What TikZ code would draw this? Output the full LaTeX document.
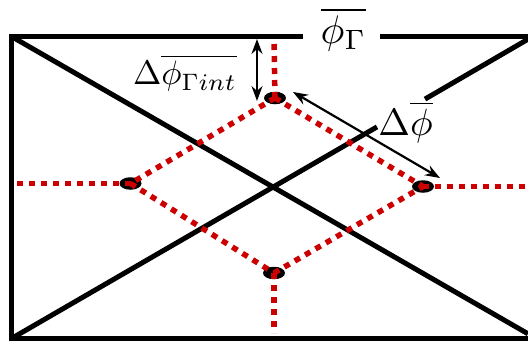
\documentclass[tikz,border=0pt]{standalone}
\usepackage{graphicx}
\usetikzlibrary{arrows.meta,shapes.geometric}
\definecolor{dotred}{RGB}{204,0,0}
\begin{document}
\begin{tikzpicture}[x=1pt,y=-1pt,
  frame/.style={line width=5pt,black},
  reddot/.style={line width=5.5pt,dotred,dash pattern=on 6pt off 6pt},
  grain/.style={ellipse,fill=black,minimum width=22pt,minimum height=12.5pt,inner sep=0pt},
  dim/.style={line width=2.2pt,{Stealth[length=15pt,width=11pt,inset=5pt]}-{Stealth[length=15pt,width=11pt,inset=5pt]}},
  lbl/.style={inner sep=0pt}]
\useasboundingbox (0,0) rectangle (528,343);
% frame
\coordinate (tl) at (11.5,36.5);
\coordinate (bl) at (11.5,338.5);
\coordinate (tgapL) at (303,36.5);
\coordinate (tgapR) at (380,36.5);
\coordinate (tr) at (530,36.5);
\coordinate (br) at (530,338.5);
\draw[frame,line join=miter] (tgapL) -- (tl) -- (bl) -- (br);
\draw[frame] (tgapR) -- (tr);
% diagonals
\coordinate (dBR) at (528,333.8);
\coordinate (dTR) at (528,39.2);
\coordinate (gapA) at (377,126.9);
\coordinate (gapB) at (425,99.1);
\draw[frame] (tl) -- (dBR);
\draw[frame] (bl) -- (gapA);
\draw[frame] (gapB) -- (dTR);
% grains
\node[grain] (nt) at (275,98) {};
\node[grain] (nl) at (130.5,183.5) {};
\node[grain] (nr) at (423,186.5) {};
\node[grain] (nb) at (274,273) {};
% dotted boundaries
\coordinate (et) at (274,42);
\coordinate (el) at (15,183.5);
\coordinate (er) at (530,186.5);
\coordinate (eb) at (274,333);
\draw[reddot] (nt.center) -- (et);
\draw[reddot] (nl.center) -- (el);
\draw[reddot] (nr.center) -- (er);
\draw[reddot] (nb.center) -- (eb);
\draw[reddot] (nt.center) -- (nl.center);
\draw[reddot] (nt.center) -- (nr.center);
\draw[reddot] (nl.center) -- (nb.center);
\draw[reddot] (nb.center) -- (nr.center);
% dimension arrows
\coordinate (a1) at (257,39);
\coordinate (a2) at (257,101);
\draw[dim] (a1) -- (a2);
\coordinate (b1) at (293,92);
\coordinate (b2) at (440,178);
\draw[dim] (b1) -- (b2);
% labels
\node[lbl] (Lint) at (185,73) {\scalebox{3.4}{$\Delta\overline{\phi_{\Gamma int}}$}};
\node[lbl] (Lg) at (343.5,29.5) {\scalebox{4}{$\overline{\phi_\Gamma}$}};
\node[lbl] (Ld) at (405.5,122) {\scalebox{3.8}{$\Delta\overline{\phi}$}};
\end{tikzpicture}
\end{document}
